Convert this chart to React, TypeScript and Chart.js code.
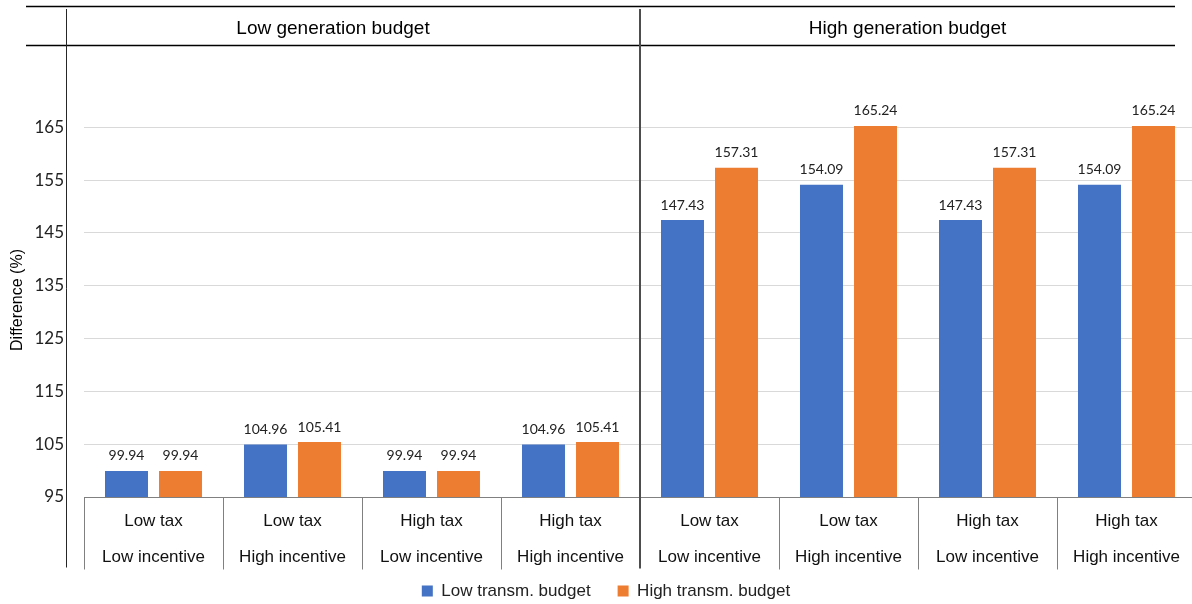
import React, { useEffect, useRef } from "react";
import { Chart, registerables } from "chart.js";

Chart.register(...registerables);

const categories: string[][] = [
  ["Low tax", "Low incentive"],
  ["Low tax", "High incentive"],
  ["High tax", "Low incentive"],
  ["High tax", "High incentive"],
  ["Low tax", "Low incentive"],
  ["Low tax", "High incentive"],
  ["High tax", "Low incentive"],
  ["High tax", "High incentive"],
];
const groupLabels = ["Low generation budget", "High generation budget"];
const seriesNames = ["Low transm. budget", "High transm. budget"];
const lowTransm = [99.94, 104.96, 99.94, 104.96, 147.43, 154.09, 147.43, 154.09];
const highTransm = [99.94, 105.41, 99.94, 105.41, 157.31, 165.24, 157.31, 165.24];
const yTicks = [95, 105, 115, 125, 135, 145, 155, 165];
const yMin = 95;
const yMax = 180;
const yTitle = "Difference (%)";

const BLUE = "#4472C4";
const ORANGE = "#ED7D31";

const decorPlugin = {
  id: "decor",
  afterLayout(chart: any) {
    const lg = chart.legend;
    if (lg) {
      lg.top -= 13.5;
      lg.bottom -= 13.5;
    }
  },
  afterDatasetsDraw(chart: any) {
    const { ctx } = chart;
    ctx.save();
    ctx.font = "14px Lato";
    ctx.fillStyle = "#222";
    ctx.textAlign = "center";
    ctx.textBaseline = "middle";
    chart.data.datasets.forEach((ds: any, i: number) => {
      const meta = chart.getDatasetMeta(i);
      meta.data.forEach((bar: any, j: number) => {
        ctx.fillText(Number(ds.data[j]).toFixed(2), bar.x, bar.y - 15);
      });
    });
    ctx.restore();
  },
  afterDraw(chart: any) {
    const { ctx, chartArea: ca } = chart;
    const xs = chart.scales.x;
    const n = categories.length;
    const step = (ca.right - ca.left) / n;
    ctx.save();

    const hl = ca.left - 58;
    const hr = ca.right - 21;
    const axisX = ca.left - 17.5;
    const bottom = Math.round(ca.bottom) + 0.5;
    const sepBottom = bottom + 72;

    ctx.strokeStyle = "#000";
    ctx.lineWidth = 1.5;
    ctx.beginPath();
    ctx.moveTo(hl, 6.5);
    ctx.lineTo(hr, 6.5);
    ctx.moveTo(hl, 45.5);
    ctx.lineTo(hr, 45.5);
    ctx.stroke();

    ctx.strokeStyle = "#262626";
    ctx.lineWidth = 1;
    ctx.beginPath();
    ctx.moveTo(axisX, 9);
    ctx.lineTo(axisX, sepBottom - 2);
    ctx.stroke();

    ctx.strokeStyle = "#808080";
    ctx.lineWidth = 1;
    ctx.beginPath();
    ctx.moveTo(ca.left, bottom);
    ctx.lineTo(ca.right, bottom);
    for (let i = 0; i <= n; i++) {
      if (i === n / 2) continue;
      const px = Math.round(ca.left + i * step) + 0.5;
      ctx.moveTo(px, bottom);
      ctx.lineTo(px, sepBottom);
    }
    ctx.stroke();

    const mid = (xs.getPixelForValue(n / 2 - 1) + xs.getPixelForValue(n / 2)) / 2;
    ctx.strokeStyle = "#4d4d4d";
    ctx.lineWidth = 2;
    ctx.beginPath();
    ctx.moveTo(mid, 9);
    ctx.lineTo(mid, sepBottom - 1);
    ctx.stroke();

    ctx.fillStyle = "#000";
    ctx.font = "19px 'Liberation Sans', Arial, sans-serif";
    ctx.textAlign = "center";
    ctx.textBaseline = "middle";
    ctx.fillText(groupLabels[0], (hl + mid) / 2, 29);
    ctx.fillText(groupLabels[1], (mid + hr) / 2, 29);

    ctx.save();
    ctx.translate(18, 300);
    ctx.rotate(-Math.PI / 2);
    ctx.font = "16px 'Liberation Sans', Arial, sans-serif";
    ctx.fillStyle = "#000";
    ctx.fillText(yTitle, 0, 0);
    ctx.restore();

    ctx.restore();
  },
};

export default function App() {
  const ref = useRef<HTMLCanvasElement>(null);
  useEffect(() => {
    if (!ref.current) return;
    const chart = new Chart(ref.current, {
      type: "bar",
      data: {
        labels: categories,
        datasets: [
          { label: seriesNames[0], data: lowTransm, backgroundColor: BLUE },
          { label: seriesNames[1], data: highTransm, backgroundColor: ORANGE },
        ],
      },
      options: {
        animation: false,
        responsive: false,
        maintainAspectRatio: false,
        devicePixelRatio: 1,
        layout: { padding: { top: 48, left: 16, right: 4, bottom: 0 } },
        datasets: {
          bar: { categoryPercentage: 0.777, barPercentage: 0.796 },
        },
        plugins: {
          legend: {
            position: "bottom",
            labels: {
              boxWidth: 11,
              boxHeight: 11,
              padding: 27,
              color: "#222",
              font: { family: "'Liberation Sans', Arial, sans-serif", size: 17 },
            },
          },
          tooltip: { enabled: false },
          title: { display: false },
        },
        scales: {
          x: {
            grid: { display: false, drawTicks: false },
            border: { display: false },
            ticks: {
              color: "#111",
              padding: 6,
              maxRotation: 0,
              autoSkip: false,
              font: { family: "'Liberation Sans', Arial, sans-serif", size: 17, lineHeight: 2.12 },
            },
            afterFit: (s: any) => {
              s.height = 72;
            },
          },
          y: {
            min: yMin,
            max: yMax,
            grid: { color: "#d9d9d9", drawTicks: false, lineWidth: 1 },
            border: { display: false },
            ticks: {
              color: "#222",
              padding: 20,
              font: { family: "Lato", size: 17 },
            },
            afterBuildTicks: (s: any) => {
              s.ticks = yTicks.map((v) => ({ value: v }));
            },
            afterFit: (s: any) => {
              s.width = 68;
            },
          },
        },
      },
      plugins: [decorPlugin],
    });
    return () => chart.destroy();
  }, []);
  return (
    <div
      style={{
        position: "fixed",
        left: 0,
        top: 0,
        width: 1192,
        height: 604,
        overflow: "hidden",
        background: "#fff",
      }}
    >
      <canvas ref={ref} width={1200} height={623} style={{ width: 1200, height: 623, display: "block" }} />
    </div>
  );
}
